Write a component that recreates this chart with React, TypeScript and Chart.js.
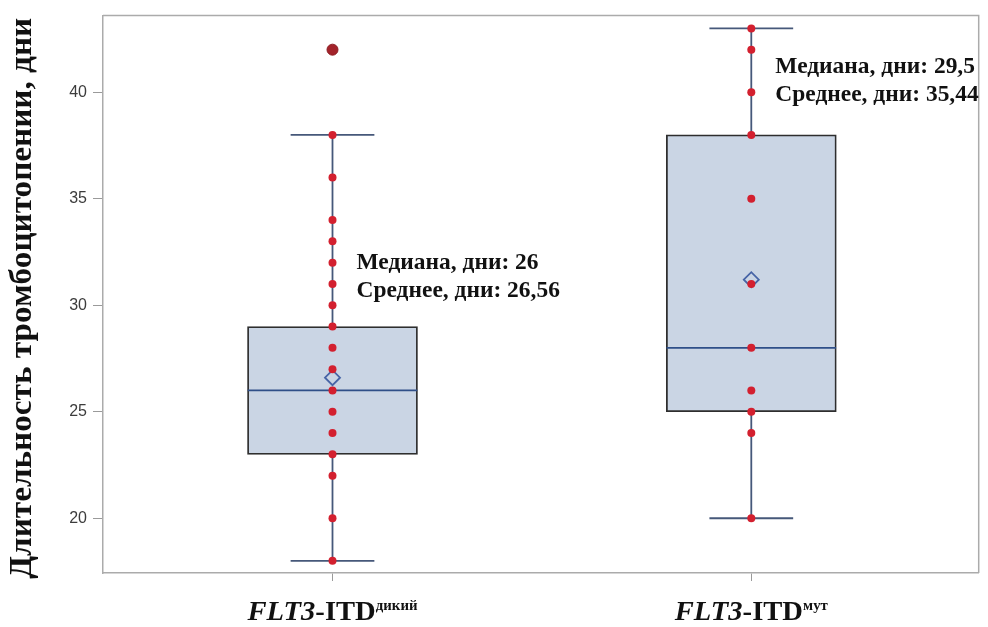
import React, { useEffect, useRef } from "react";
import { Chart, registerables } from "chart.js";

Chart.register(...registerables);

// ---- data ----
const groupPositions = [1, 2];
const labelMain = ["FLT3", "FLT3"];
const labelRest = ["-ITD", "-ITD"];
const labelSup = ["дикий", "мут"];
const yTicks = [20, 25, 30, 35, 40];
const whiskerLow = [18, 20];
const q1 = [23, 25];
const medians = [26, 28];
const q3 = [29, 38];
const whiskerHigh = [38, 43];
const means = [26.6, 31.2];
const wildValues = [18, 20, 22, 23, 24, 25, 26, 27, 28, 29, 30, 31, 32, 33, 34, 36, 38];
const mutValues = [20, 24, 25, 26, 28, 31, 35, 38, 40, 42, 43];
const outliers = [{ g: 1, v: 42 }];
const annotationLines = [
  ["Медиана, дни: 26", "Среднее, дни: 26,56"],
  ["Медиана, дни: 29,5", "Среднее, дни: 35,44"],
];
const annotationAnchorY = [
  [31.7, 30.4],
  [40.9, 39.6],
];
const yTitle = "Длительность тромбоцитопении, дни";

// ---- styles ----
const BOX_FILL = "#cad5e4";
const BOX_BORDER = "#2e2e2e";
const MEDIAN_COLOR = "#2f4f88";
const WHISKER_COLOR = "#46587a";
const POINT_COLOR = "#d3202f";
const OUTLIER_COLOR = "#a3232a";
const MEAN_BORDER = "#4764a6";
const FRAME_COLOR = "#ababab";
const CAP_HALF = 0.1;
const BOX_HALF = 0.2024;
const SERIF = "'Liberation Serif', 'Times New Roman', serif";

function gapJoin(segs: { x: number; y: number | null }[][]) {
  const out: { x: number; y: number | null }[] = [];
  segs.forEach((s, i) => {
    if (i > 0) out.push({ x: s[0].x, y: null });
    out.push(...s);
  });
  return out;
}

const overlayPlugin = {
  id: "overlay",
  afterDraw(chart: any) {
    const { ctx, chartArea, scales } = chart;
    const xs = scales.x;
    const ys = scales.y;
    ctx.save();
    // frame top & right
    ctx.strokeStyle = FRAME_COLOR;
    ctx.lineWidth = 1.5;
    ctx.beginPath();
    ctx.moveTo(chartArea.left, chartArea.top);
    ctx.lineTo(chartArea.right, chartArea.top);
    ctx.lineTo(chartArea.right, chartArea.bottom);
    ctx.stroke();

    ctx.fillStyle = "#111";
    // y title
    ctx.save();
    ctx.font = `bold 31px ${SERIF}`;
    const tw = ctx.measureText(yTitle).width;
    const targetLen = 561;
    ctx.translate(23, (chartArea.top + chartArea.bottom) / 2 + 4);
    ctx.rotate(-Math.PI / 2);
    ctx.scale(targetLen / tw, 1);
    ctx.textAlign = "center";
    ctx.textBaseline = "middle";
    ctx.fillText(yTitle, 0, 0);
    ctx.restore();

    // x labels
    const hs = 1.06;
    groupPositions.forEach((g, i) => {
      const cx = xs.getPixelForValue(g);
      const parts = [
        { t: labelMain[i], f: `italic bold 27px ${SERIF}`, dy: 0 },
        { t: labelRest[i], f: `bold 27px ${SERIF}`, dy: 0 },
        { t: labelSup[i], f: `bold 14px ${SERIF}`, dy: -10 },
      ];
      let total = 0;
      const widths = parts.map((p) => {
        ctx.font = p.f;
        const w = ctx.measureText(p.t).width;
        total += w;
        return w;
      });
      ctx.save();
      ctx.translate(cx, 620);
      ctx.scale(hs, 1);
      let x = -total / 2;
      ctx.textAlign = "left";
      ctx.textBaseline = "alphabetic";
      parts.forEach((p, k) => {
        ctx.font = p.f;
        ctx.fillText(p.t, x, p.dy);
        x += widths[k];
      });
      ctx.restore();
    });

    // annotations
    ctx.font = `bold 23px ${SERIF}`;
    ctx.textAlign = "left";
    ctx.textBaseline = "alphabetic";
    groupPositions.forEach((g, i) => {
      const x = xs.getPixelForValue(g) + 24;
      annotationLines[i].forEach((line, k) => {
        ctx.save();
        ctx.translate(x, ys.getPixelForValue(annotationAnchorY[i][k]));
        ctx.scale(1.02, 1);
        ctx.fillText(line, 0, 0);
        ctx.restore();
      });
    });
    ctx.restore();
  },
};

export default function App() {
  const ref = useRef<HTMLCanvasElement | null>(null);
  useEffect(() => {
    document.body.style.margin = "0";
    const canvas = ref.current!;
    const groups = [wildValues, mutValues];

    const whiskers = gapJoin(
      groupPositions.map((g, i) => [
        { x: g, y: whiskerLow[i] },
        { x: g, y: whiskerHigh[i] },
      ])
    );
    const caps = gapJoin(
      groupPositions.flatMap((g, i) => [
        [
          { x: g - CAP_HALF, y: whiskerLow[i] },
          { x: g + CAP_HALF, y: whiskerLow[i] },
        ],
        [
          { x: g - CAP_HALF, y: whiskerHigh[i] },
          { x: g + CAP_HALF, y: whiskerHigh[i] },
        ],
      ])
    );
    const medianLines = gapJoin(
      groupPositions.map((g, i) => [
        { x: g - BOX_HALF, y: medians[i] },
        { x: g + BOX_HALF, y: medians[i] },
      ])
    );
    const points = groupPositions.flatMap((g, i) => groups[i].map((v) => ({ x: g, y: v })));

    const chart = new Chart(canvas, {
      type: "line",
      data: {
        datasets: [
          {
            type: "line",
            data: whiskers as any,
            borderColor: WHISKER_COLOR,
            borderWidth: 1.8,
            pointRadius: 0,
            spanGaps: false,
            order: 6,
          },
          {
            type: "line",
            data: caps as any,
            borderColor: WHISKER_COLOR,
            borderWidth: 1.8,
            pointRadius: 0,
            spanGaps: false,
            order: 6,
          },
          {
            type: "bar",
            data: groupPositions.map((g, i) => ({ x: g, y: [q1[i], q3[i]] })) as any,
            backgroundColor: BOX_FILL,
            borderColor: BOX_BORDER,
            borderWidth: 1.8,
            borderSkipped: false,
            barThickness: 170,
            grouped: false,
            order: 5,
          } as any,
          {
            type: "line",
            data: medianLines as any,
            borderColor: MEDIAN_COLOR,
            borderWidth: 1.8,
            pointRadius: 0,
            spanGaps: false,
            order: 4,
          },
          {
            type: "scatter",
            data: groupPositions.map((g, i) => ({ x: g, y: means[i] })),
            pointStyle: "rectRot",
            pointRadius: 7.5,
            backgroundColor: BOX_FILL,
            borderColor: MEAN_BORDER,
            borderWidth: 1.8,
            order: 3,
          },
          {
            type: "scatter",
            data: points,
            pointRadius: 4,
            backgroundColor: POINT_COLOR,
            borderWidth: 0,
            order: 2,
          },
          {
            type: "scatter",
            data: outliers.map((o) => ({ x: o.g, y: o.v })),
            pointRadius: 5.5,
            backgroundColor: OUTLIER_COLOR,
            borderColor: "#8c1c22",
            borderWidth: 1,
            order: 1,
          },
        ],
      },
      options: {
        responsive: false,
        animation: false,
        devicePixelRatio: 1,
        layout: { padding: { left: 0, right: 7, top: 13, bottom: 0 } },
        plugins: { legend: { display: false }, tooltip: { enabled: false } },
        scales: {
          x: {
            type: "linear",
            offset: false,
            min: 0.452,
            max: 2.543,
            afterBuildTicks: (s: any) => {
              s.ticks = groupPositions.map((v) => ({ value: v }));
            },
            afterFit: (s: any) => {
              s.height = 54;
            },
            ticks: { display: false },
            grid: { offset: false, drawOnChartArea: false, drawTicks: true, tickLength: 8, color: "#9a9a9a" },
            border: { display: true, color: FRAME_COLOR, width: 1.5 },
          },
          y: {
            type: "linear",
            min: 17.43,
            max: 43.6,
            afterBuildTicks: (s: any) => {
              s.ticks = yTicks.map((v) => ({ value: v }));
            },
            afterFit: (s: any) => {
              s.width = 103;
            },
            ticks: {
              color: "#3c3c3c",
              padding: 6,
              font: { family: "'Liberation Sans', Arial, sans-serif", size: 16 },
            },
            grid: { drawOnChartArea: false, drawTicks: true, tickLength: 10, color: "#9a9a9a" },
            border: { display: true, color: FRAME_COLOR, width: 1.5 },
          },
        },
      } as any,
      plugins: [overlayPlugin],
    });
    return () => chart.destroy();
  }, []);

  return (
    <div style={{ position: "absolute", left: 0, top: 0, width: 988, height: 627, background: "#fff" }}>
      <canvas ref={ref} width={988} height={627} style={{ display: "block" }} />
    </div>
  );
}
